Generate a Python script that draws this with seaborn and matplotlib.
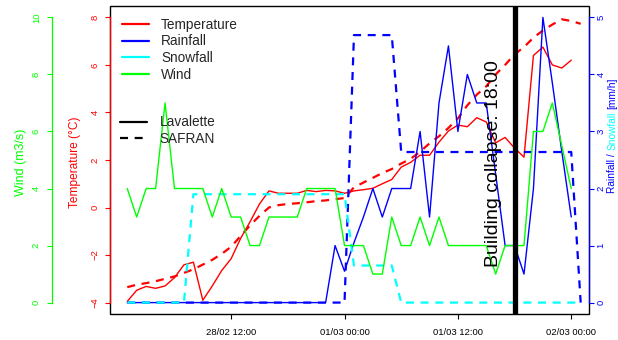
import matplotlib
matplotlib.use("Agg")
import matplotlib.pyplot as plt
from matplotlib.lines import Line2D
import numpy as np
import pandas as pd
import seaborn as sns

# ---------------- data (hours since 28/02 00:00) ----------------
lav_hours = list(range(1, 49))
saf_hours = list(range(1, 50))

lav_temp = [-3.95, -3.48, -3.32, -3.40, -3.30, -2.95, -2.41, -2.30, -3.90, -3.30,
            -2.65, -2.15, -1.30, -0.60, 0.15, 0.70, 0.60, 0.60, 0.60, 0.72,
            0.67, 0.72, 0.70, 0.60, 0.70, 0.75, 0.81, 1.00, 1.18, 1.70,
            1.90, 2.20, 2.20, 2.75, 3.22, 3.47, 3.40, 3.78, 3.60, 2.72,
            2.95, 2.50, 2.12, 6.40, 6.75, 6.00, 5.87, 6.20]
lav_rain = [0.0] * 22 + [1.0, 0.55, 1.05, 1.5, 2.0, 1.5, 2.0, 2.0, 2.0, 3.0,
                         1.5, 3.5, 4.5, 3.0, 4.0, 3.5, 3.5, 2.25, 1.0, 1.0,
                         0.5, 2.0, 5.0, 3.85, 2.65, 1.5]
lav_wind = [4, 3, 4, 4, 7, 4, 4, 4, 4, 3,
            4, 3, 3, 2, 2, 3, 3, 3, 3, 4,
            4, 4, 4, 2, 2, 2, 1, 1, 3, 2,
            2, 3, 2, 3, 2, 2, 2, 2, 2, 1,
            2, 2, 2, 6, 6, 7, 5.5, 4]

saf_temp = [-3.35, -3.25, -3.18, -3.10, -3.00, -2.90, -2.75, -2.60, -2.40, -2.20,
            -1.95, -1.65, -1.20, -0.75, -0.35, 0.00, 0.10, 0.15, 0.18, 0.22,
            0.27, 0.30, 0.35, 0.40, 0.85, 1.05, 1.25, 1.45, 1.62, 1.85,
            2.05, 2.35, 2.70, 3.00, 3.35, 3.75, 4.30, 4.75, 5.10, 5.60,
            6.00, 6.45, 6.75, 7.15, 7.45, 7.70, 7.92, 7.85, 7.73]
saf_rain = [0.0] * 24 + [4.69] * 5 + [2.64] * 19 + [0.0]
saf_snow = [0.0] * 7 + [1.9] * 17 + [0.65] * 5 + [0.0] * 20

tick_hours = [12, 24, 36, 48]
tick_labels = ["28/02 12:00", "01/03 00:00", "01/03 12:00", "02/03 00:00"]
temp_ticks = [-4, -2, 0, 2, 4, 6, 8]
wind_ticks = [0, 2, 4, 6, 8, 10]
rain_ticks = [0, 1, 2, 3, 4, 5]
collapse_hour = 42
collapse_text = "Building collapse: 18:00"

legend_vars = ["Temperature", "Rainfall", "Snowfall", "Wind"]
legend_sources = ["Lavalette", "SAFRAN"]

RED, BLUE, CYAN, GREEN = "#FF0000", "#0000FF", "#00FFFF", "#00FF00"

# ---------------- style ----------------
sns.set_style("white")
plt.rcParams["font.family"] = ["Liberation Sans", "DejaVu Sans"]

W, H = 618, 340
fig = plt.figure(figsize=(W / 100, H / 100), dpi=100)
L, R, T, B = 109.5, 589.0, 6.0, 314.0
ax = fig.add_axes([L / W, 1 - B / H, (R - L) / W, (B - T) / H])

df_lav = pd.DataFrame({"hour": lav_hours, "temp": lav_temp,
                       "rain": lav_rain, "wind": lav_wind})
df_saf = pd.DataFrame({"hour": saf_hours, "temp": saf_temp,
                       "rain": saf_rain, "snow": saf_snow})

LW_S, LW_D = 1.0, 1.6
DASH = (3.6, 3.0)


def dashed_last(a):
    a.lines[-1].set_dashes(DASH)


# temperature
sns.lineplot(data=df_lav, x="hour", y="temp", ax=ax, color=RED, lw=LW_S)
sns.lineplot(data=df_saf, x="hour", y="temp", ax=ax, color=RED, lw=LW_D)
dashed_last(ax)

# rain / snow
ax_r = ax.twinx()
sns.lineplot(data=df_lav, x="hour", y="rain", ax=ax_r, color=BLUE, lw=LW_S)
sns.lineplot(data=df_saf, x="hour", y="rain", ax=ax_r, color=BLUE, lw=LW_D)
dashed_last(ax_r)
sns.lineplot(data=df_saf, x="hour", y="snow", ax=ax_r, color=CYAN, lw=LW_D)
dashed_last(ax_r)

# wind
ax_w = ax.twinx()
sns.lineplot(data=df_lav, x="hour", y="wind", ax=ax_w, color=GREEN, lw=LW_S)


def padded(lo, hi):
    p = 0.04 * (hi - lo)
    return lo - p, hi + p


ax.set_xlim(*padded(min(lav_hours), max(lav_hours)))
ax.set_ylim(*padded(min(temp_ticks), max(temp_ticks)))
ax_r.set_ylim(*padded(min(rain_ticks), max(rain_ticks)))
ax_w.set_ylim(*padded(min(wind_ticks), max(wind_ticks)))

for a in (ax, ax_r, ax_w):
    a.set_xlabel("")
    a.set_ylabel("")
    for s in a.spines.values():
        s.set_visible(False)

# frame
ax.add_patch(plt.Rectangle((0, 0), 1, 1, transform=ax.transAxes, fill=False,
                           ec="black", lw=1.0, zorder=1, clip_on=False))

TL, TW, FS_T = 3.8, 0.8, 6.8
# x axis
ax.set_xticks(tick_hours)
ax.set_xticklabels(tick_labels)
ax.tick_params(axis="x", bottom=True, direction="out", length=TL, width=TW,
               colors="black", labelsize=FS_T, pad=6.3)

# temperature axis
ax.set_yticks(temp_ticks)
ax.spines["left"].set_visible(True)
ax.spines["left"].set_color(RED)
ax.spines["left"].set_linewidth(0.9)
ax.spines["left"].set_bounds(min(temp_ticks), max(temp_ticks))
ax.tick_params(axis="y", left=True, direction="out", length=TL, width=TW,
               colors=RED, labelsize=FS_T, pad=3.4, labelrotation=90)
plt.setp(ax.get_yticklabels(), va="center")

# rain axis (right)
ax_r.set_yticks(rain_ticks)
ax_r.spines["right"].set_visible(True)
ax_r.spines["right"].set_color(BLUE)
ax_r.spines["right"].set_linewidth(0.9)
ax_r.spines["right"].set_bounds(min(rain_ticks), max(rain_ticks))
ax_r.tick_params(axis="y", right=True, direction="out", length=TL, width=TW,
                 colors=BLUE, labelsize=FS_T, pad=1.6, labelrotation=90)
plt.setp(ax_r.get_yticklabels(), va="center")

# wind axis (outer left)
ax_w.yaxis.set_ticks_position("left")
ax_w.set_yticks(wind_ticks)
ax_w.spines["left"].set_visible(True)
ax_w.spines["left"].set_position(("outward", (L - 52.0) * 0.72))
ax_w.spines["left"].set_color(GREEN)
ax_w.spines["left"].set_linewidth(0.9)
ax_w.spines["left"].set_bounds(min(wind_ticks), max(wind_ticks))
ax_w.tick_params(axis="y", left=True, right=False, labelleft=True, labelright=False,
                 direction="out", length=TL, width=TW, colors=GREEN,
                 labelsize=FS_T, pad=4.2, labelrotation=90)
plt.setp(ax_w.get_yticklabels(), va="center")

# axis titles
fig.text(75 / W, 1 - 162 / H, "Temperature (°C)", rotation=90, color=RED,
         fontsize=8.6, ha="center", va="center")
fig.text(21 / W, 1 - 162 / H, "Wind (m3/s)", rotation=90, color=GREEN,
         fontsize=9.0, ha="center", va="center")

# right multicolour label
renderer = fig.canvas.get_renderer()
FS_R = 7.3


def text_w(s):
    t = fig.text(0, 0, s, fontsize=FS_R)
    w = t.get_window_extent(renderer).width
    t.remove()
    return w


sp = text_w("a a") - text_w("aa")
pieces = [("Rainfall /", BLUE), ("Snowfall", CYAN), ("[mm/h]", BLUE)]
ypix = 193.0
for s, c in pieces:
    fig.text(612.3 / W, 1 - ypix / H, s, rotation=90, rotation_mode="anchor",
             ha="left", va="center", fontsize=FS_R, color=c)
    ypix -= text_w(s) + sp

# collapse line and text
ax_w.axvline(collapse_hour, color="black", lw=3.8, zorder=10)
ax_w.annotate(collapse_text, xy=(collapse_hour, 0.5),
              xycoords=("data", "axes fraction"), xytext=(-21.5, -4),
              textcoords="offset pixels", rotation=90, ha="center", va="center",
              fontsize=14, color="black", zorder=11)

# legends
h1 = [Line2D([], [], color=c, lw=1.6) for c in (RED, BLUE, CYAN, GREEN)]
leg1 = ax_w.legend(h1, legend_vars, loc="upper left", bbox_to_anchor=(0.0254, 0.962),
                   frameon=False, fontsize=9.8, handlelength=2.0, handletextpad=0.9,
                   labelspacing=0.2, borderpad=0, borderaxespad=0)
ax_w.add_artist(leg1)
h2 = [Line2D([], [], color="black", lw=1.6),
      Line2D([], [], color="black", lw=1.6, linestyle=(0, DASH))]
ax_w.legend(h2, legend_sources, loc="upper left", bbox_to_anchor=(0.0219, 0.645),
            frameon=False, fontsize=9.8, handlelength=2.0, handletextpad=0.9,
            labelspacing=0.2, borderpad=0, borderaxespad=0)

fig.savefig("out.png", dpi=100, facecolor="white")
